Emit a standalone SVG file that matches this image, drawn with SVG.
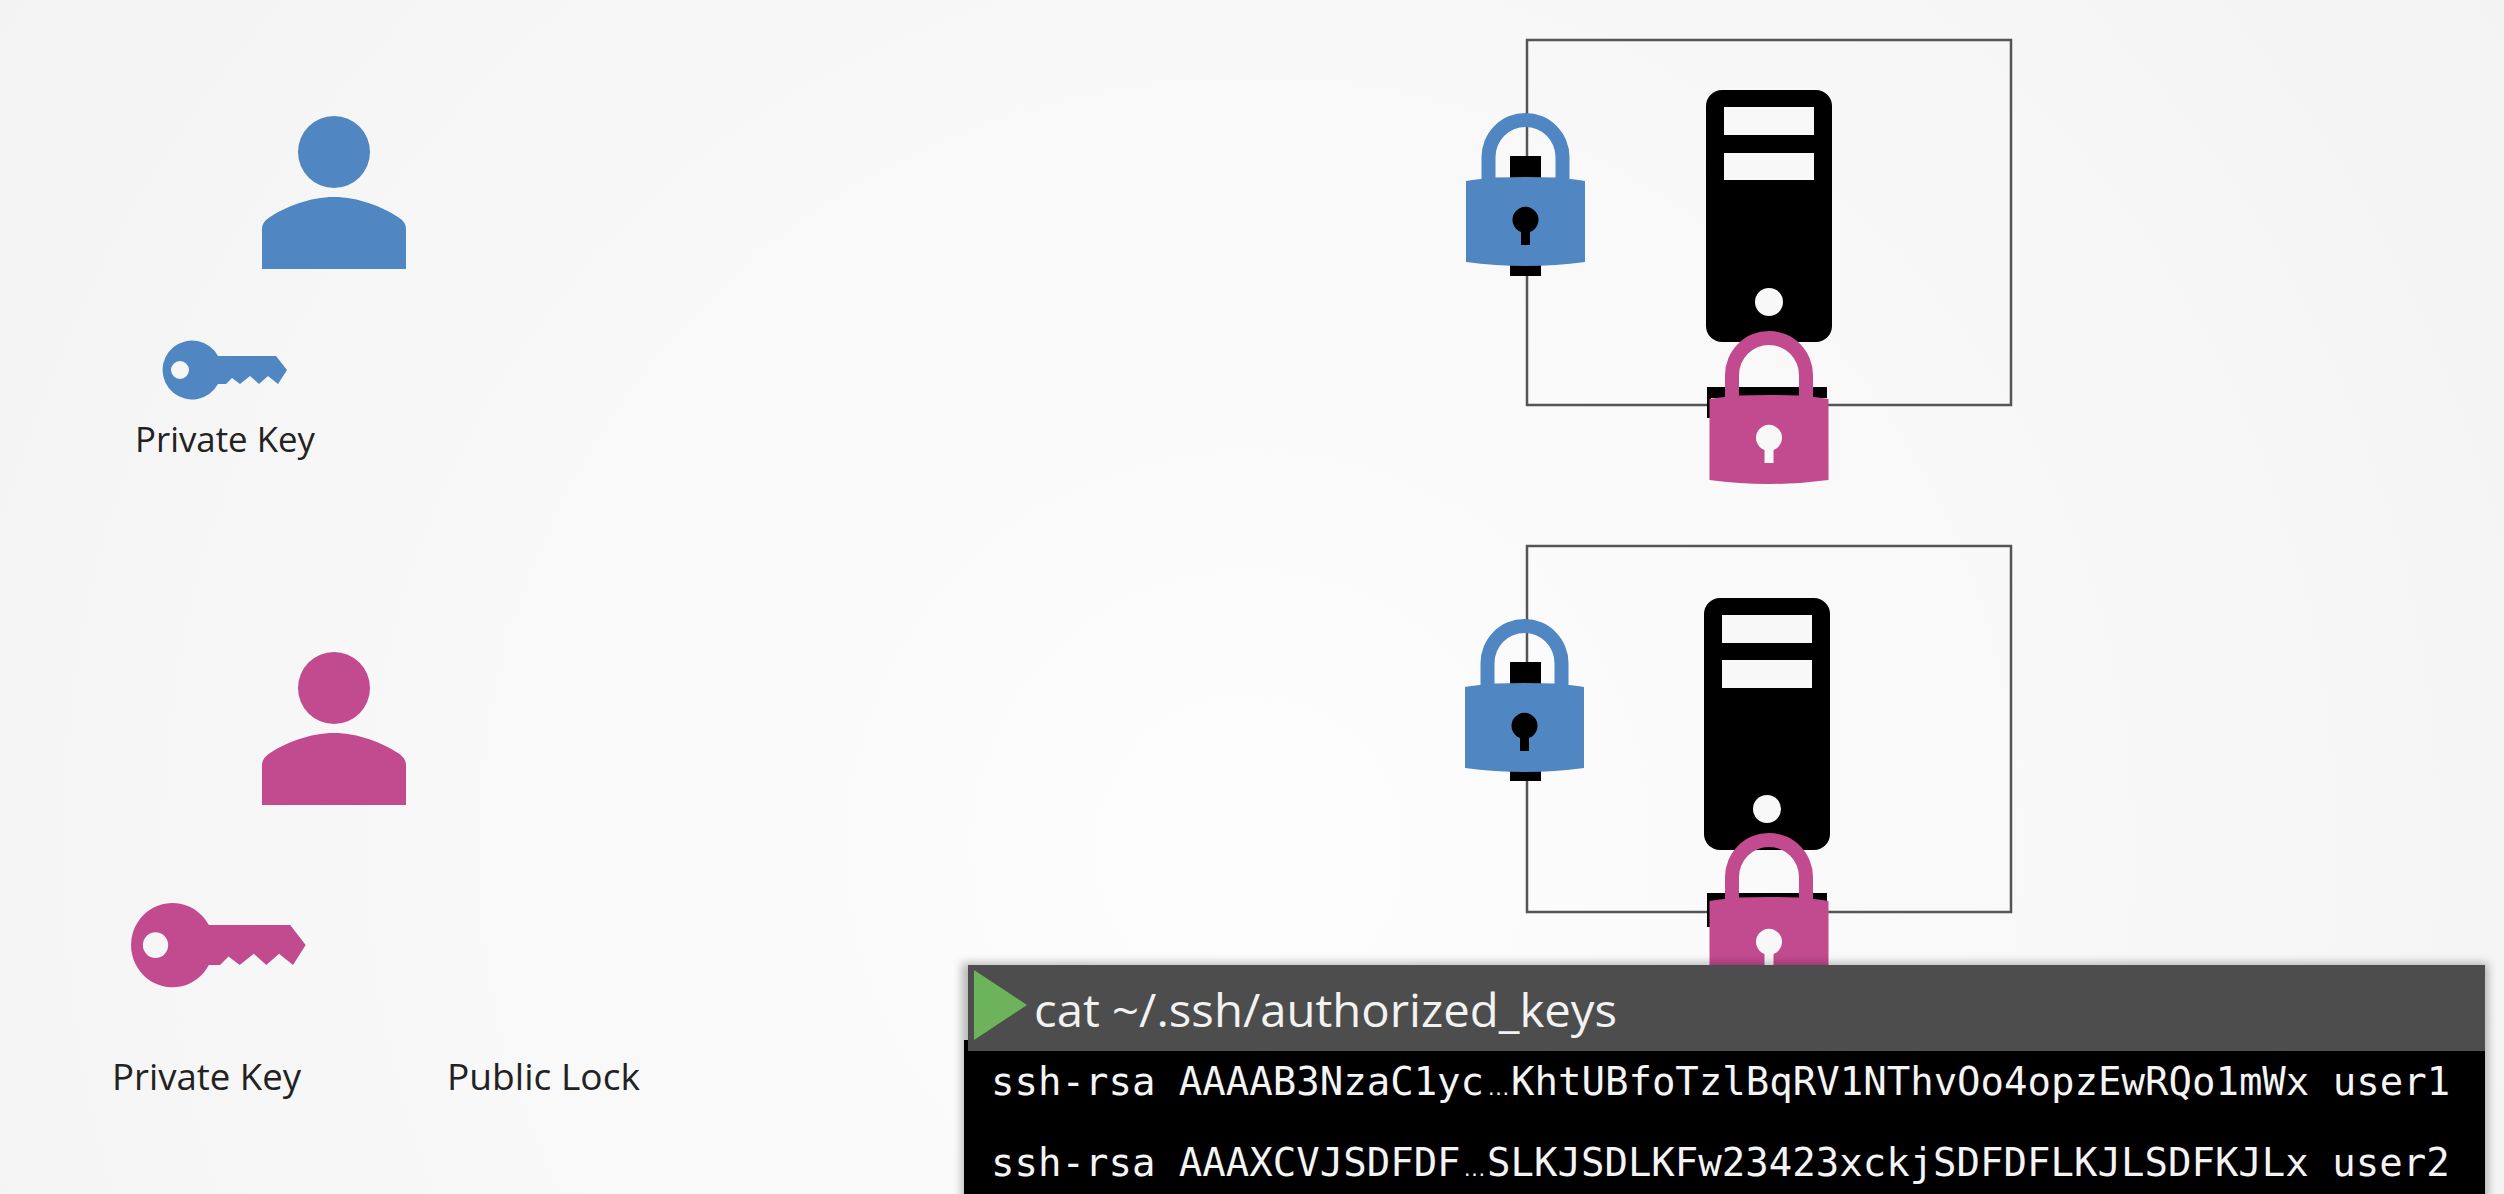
<svg xmlns="http://www.w3.org/2000/svg" width="2504" height="1194" viewBox="0 0 2504 1194">
<style>
.blue{fill:#5086c1}.pink{fill:#c24b90}.blk{fill:#000}
.hole{fill:#f8f8f8}
.box{fill:none;stroke:#555;stroke-width:2.5}
.lbl{font-family:"Open Sans","Noto Sans",sans-serif;fill:#222}
.cmd{font-family:"Open Sans","Noto Sans",sans-serif;fill:#f2f2f2;font-size:45px}
.mono{font-family:"DejaVu Sans Mono",monospace;font-size:39px;fill:#f4f4f4}
.ell{font-family:"Liberation Sans",sans-serif;font-size:23px}
</style>
<defs>
<radialGradient id="bg" gradientUnits="userSpaceOnUse" cx="1250" cy="850" r="1500">
<stop offset="0" stop-color="#fdfdfd"/><stop offset=".55" stop-color="#f8f8f8"/><stop offset="1" stop-color="#f3f3f3"/>
</radialGradient>
<filter id="sh" x="-3%" y="-10%" width="106%" height="120%"><feGaussianBlur stdDeviation="5"/></filter>
<path id="person" d="M262 269V229Q262 222 270 217C285 207 310 197 334 197C358 197 383 207 398 217Q406 222 406 229V269ZM370 152A36 36 0 1 1 298 152A36 36 0 1 1 370 152Z"/>
<path id="key" fill-rule="evenodd" d="M218 356H276L287 370L278 384L268 376L259 384L250 376L240 384L232 378L226 384H218A29.500 29.500 0 1 1 218 356ZM171 370A9 9 0 1 0 189 370A9 9 0 1 0 171 370Z"/>
<path id="lock" fill-rule="evenodd" d="M-59.500 68Q-50 66.500 -44 66V44A44 44 0 0 1 44 44V66Q50 66.500 59.500 68V149Q30 153 0 153Q-30 153 -59.500 149ZM-30 64.500Q-15 64 0 64Q15 64 30 64.500V44A30 30 0 0 0 -30 44Z"/>
<path id="hole-shape" d="M-4.500 132V119A13 13 0 1 1 4.500 119V132Z"/>
<rect id="server" width="126" height="252" rx="16"/>
</defs>
<rect id="background" width="2504" height="1194" fill="url(#bg)"/>

<g id="user1">
<use href="#person" class="blue"/>
</g>
<g id="user1-key">
<use href="#key" class="blue"/>
<text class="lbl" x="135" y="452" font-size="34" textLength="180" lengthAdjust="spacingAndGlyphs">Private Key</text>
</g>

<g id="user2">
<use href="#person" class="pink" transform="translate(0 536)"/>
</g>
<g id="user2-key">
<use href="#key" class="pink" transform="translate(-97 416) scale(1.403 1.43)"/>
<text class="lbl" x="112" y="1090" font-size="37" textLength="189" lengthAdjust="spacingAndGlyphs">Private Key</text>
</g>
<text id="public-lock" class="lbl" x="447" y="1090" font-size="37" textLength="193" lengthAdjust="spacingAndGlyphs">Public Lock</text>

<g id="server1">
<rect class="box" x="1527" y="40" width="484" height="365"/>
<use href="#server" class="blk" x="1706" y="90"/>
<rect class="hole" x="1724" y="107" width="90" height="28"/>
<rect class="hole" x="1724" y="153" width="90" height="27"/>
<circle class="hole" cx="1769" cy="302" r="14"/>
</g>
<g id="server1-blue-lock">
<rect class="blk" x="1510" y="156" width="31" height="120"/>
<use href="#lock" class="blue" transform="translate(1525.500 113)"/>
<use href="#hole-shape" class="blk" transform="translate(1525.500 113)"/>
</g>
<g id="server1-pink-lock">
<path class="blk" d="M1707 387H1827V398H1711V418H1707Z"/>
<use href="#lock" class="pink" transform="translate(1769 331)"/>
<use href="#hole-shape" class="hole" transform="translate(1769 331)"/>
</g>

<g id="server2">
<rect class="box" x="1527" y="546" width="484" height="366"/>
<use href="#server" class="blk" x="1704" y="598"/>
<rect class="hole" x="1722" y="615" width="90" height="28"/>
<rect class="hole" x="1722" y="660" width="90" height="28"/>
<circle class="hole" cx="1767" cy="809" r="14"/>
</g>
<g id="server2-blue-lock">
<rect class="blk" x="1510" y="662" width="31" height="119"/>
<use href="#lock" class="blue" transform="translate(1524.500 619)"/>
<use href="#hole-shape" class="blk" transform="translate(1524.500 619)"/>
</g>
<g id="server2-pink-lock">
<path class="blk" d="M1707 893H1827V905H1711V927H1707Z"/>
<use href="#lock" class="pink" transform="translate(1769 833)"/>
<use href="#hole-shape" class="hole" transform="translate(1769 835)"/>
</g>

<g id="terminal">
<rect x="962" y="963" width="1526" height="240" fill="#000" opacity=".28" filter="url(#sh)"/>
<rect x="964" y="1040" width="1521" height="154" fill="#000"/>
<rect x="968" y="965" width="1517" height="86" fill="#4d4d4d"/>
<path d="M974 970L1027 1005L974 1040Z" fill="#6cb35c"/>
<text class="cmd" x="1034" y="1027" textLength="583" lengthAdjust="spacingAndGlyphs">cat ~/.ssh/authorized_keys</text>
<text class="mono" y="1095"><tspan x="991">ssh-rsa AAAAB3NzaC1yc</tspan><tspan class="ell" x="1487">…</tspan><tspan x="1511">KhtUBfoTzlBqRV1NThvOo4opzEwRQo1mWx user1</tspan></text>
<text class="mono" y="1176"><tspan x="991">ssh-rsa AAAXCVJSDFDF</tspan><tspan class="ell" x="1463">…</tspan><tspan x="1487">SLKJSDLKFw23423xckjSDFDFLKJLSDFKJLx user2</tspan></text>
</g>
</svg>
